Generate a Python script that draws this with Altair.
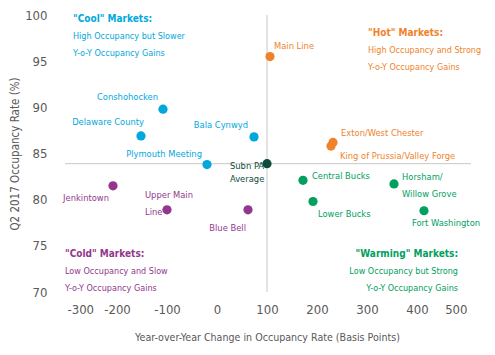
import altair as alt
import pandas as pd

# ---- data ----
markets = ["Conshohocken", "Delaware County", "Bala Cynwyd", "Plymouth Meeting",
           "Main Line", "Exton/West Chester", "King of Prussia/Valley Forge",
           "Central Bucks", "Lower Bucks", "Horsham/\nWillow Grove", "Fort Washington",
           "Jenkintown", "Upper Main\nLine", "Blue Bell", "Subn PA\nAverage"]
change_bps = [-108, -152, 74, -20, 106, 232, 228, 172, 192, 354, 414, -208, -100, 62, 100]
occupancy = [89.8, 86.9, 86.8, 83.8, 95.5, 86.2, 85.8, 82.1, 79.8, 81.7, 78.8, 81.5, 78.9, 78.9, 83.9]
group = ["Cool", "Cool", "Cool", "Cool", "Hot", "Hot", "Hot",
         "Warming", "Warming", "Warming", "Warming", "Cold", "Cold", "Cold", "Average"]

x_ticks = [-300, -200, -100, 0, 100, 200, 300, 400, 500]
y_ticks = [70, 75, 80, 85, 90, 95, 100]

avg_change = 100
avg_occ = 83.9

quadrants = [
    ("Cool", ['"Cool" Markets:', "High Occupancy but Slower", "Y-o-Y  Occupancy Gains"]),
    ("Hot", ['"Hot" Markets:', "High Occupancy and Strong", "Y-o-Y  Occupancy Gains"]),
    ("Cold", ['"Cold" Markets:', "Low Occupancy and Slow", "Y-o-Y  Occupancy Gains"]),
    ("Warming", ['"Warming" Markets:', "Low Occupancy but Strong", "Y-o-Y  Occupancy Gains"]),
]

colors = {"Cool": "#00a8dc", "Hot": "#f0832a", "Cold": "#93378e",
          "Warming": "#00a05e", "Average": "#0d4b3a"}
text_colors = dict(colors, Average="#3a3a3a")

FONT = "DejaVu Sans Condensed, Liberation Sans, sans-serif"

df = pd.DataFrame({"market": markets, "change": change_bps, "occ": occupancy, "group": group})

xs = alt.Scale(domain=[-300, 500], nice=False, zero=False)
ys = alt.Scale(domain=[70, 100], nice=False, zero=False)

X = alt.X("change:Q", scale=xs,
          axis=alt.Axis(values=x_ticks, title="Year-over-Year Change in Occupancy Rate (Basis Points)",
                        labelExpr="replace(datum.label, '\u2212', '-')",
                        domain=False, ticks=False, grid=False, labelPadding=11,
                        labelFontSize=13, labelFont=FONT, labelColor="#595959",
                        titleFont=FONT, titleFontSize=10.6, titleFontWeight="normal",
                        titleColor="#595959", titlePadding=16))
Y = alt.Y("occ:Q", scale=ys,
          axis=alt.Axis(values=y_ticks, title="Q2 2017 Occupancy Rate (%)",
                        domain=False, ticks=False, grid=False, labelPadding=20,
                        labelFontSize=13, labelFont=FONT, labelColor="#595959",
                        titleFont=FONT, titleFontSize=11.5, titleFontWeight="normal",
                        titleColor="#595959", titlePadding=4))

color_scale = alt.Scale(domain=list(colors.keys()), range=list(colors.values()))
text_scale = alt.Scale(domain=list(text_colors.keys()), range=list(text_colors.values()))

# reference lines through the suburban average
hline = alt.Chart(pd.DataFrame({"y": [avg_occ]})).mark_rule(color="#c8c8c8", strokeWidth=1).encode(
    y=alt.Y("y:Q", scale=ys), x=alt.value(-2), x2=alt.value(404))
vline = alt.Chart(pd.DataFrame({"x": [avg_change]})).mark_rule(color="#c8c8c8", strokeWidth=1).encode(
    x=alt.X("x:Q", scale=xs), y=alt.value(0), y2=alt.value(277))

points = alt.Chart(df).mark_circle(size=85, opacity=1).encode(
    x=X, y=Y, color=alt.Color("group:N", scale=color_scale, legend=None))

# label placement (pixel offsets from each point)
placement = {
    "Conshohocken": (-5, -12, "right", "middle"),
    "Delaware County": (3, -14, "right", "middle"),
    "Bala Cynwyd": (-6, -12, "right", "middle"),
    "Plymouth Meeting": (-5, -11, "right", "middle"),
    "Main Line": (4, -11, "left", "middle"),
    "Exton/West Chester": (8, -9, "left", "middle"),
    "King of Prussia/Valley Forge": (9, 10, "left", "middle"),
    "Central Bucks": (9, -4, "left", "middle"),
    "Lower Bucks": (5, 12, "left", "middle"),
    "Horsham/\nWillow Grove": (8, -11, "left", "top"),
    "Fort Washington": (-12, 12, "left", "middle"),
    "Jenkintown": (-4, 12, "right", "middle"),
    "Upper Main\nLine": (-22, -19, "left", "top"),
    "Blue Bell": (-2, 18, "right", "middle"),
    "Subn PA\nAverage": (-37, -2, "left", "top"),
}
line_heights = {"Horsham/\nWillow Grove": 17, "Upper Main\nLine": 17, "Subn PA\nAverage": 13}

labels = []
for m in markets:
    dx, dy, al, bl = placement[m]
    labels.append(
        alt.Chart(df[df.market == m]).mark_text(
            dx=dx, dy=dy, align=al, baseline=bl, font=FONT, fontSize=9.3,
            lineBreak="\n", lineHeight=line_heights.get(m, 13)
        ).encode(x=alt.X("change:Q", scale=xs), y=alt.Y("occ:Q", scale=ys), text="market:N",
                 color=alt.Color("group:N", scale=text_scale, legend=None))
    )

# quadrant annotations (pixel positions inside the plot area)
quad_pos = {"Cool": (6, 4, "left"), "Hot": (301, 18, "left"),
            "Cold": (-2, 239, "left"), "Warming": (391, 239, "right")}
annots = []
for g, lines in quadrants:
    px, py, al = quad_pos[g]
    for i, line in enumerate(lines):
        annots.append(
            alt.Chart(pd.DataFrame({"t": [line]})).mark_text(
                align=al, baseline="middle", font=FONT,
                fontSize=10 if i == 0 else 9,
                fontWeight="bold" if i == 0 else "normal", color=colors[g]
            ).encode(x=alt.value(px), y=alt.value(py + i * 17), text="t:N")
        )

chart = alt.layer(hline, vline, points, *labels, *annots).properties(
    width=400, height=277,
    autosize=alt.AutoSizeParams(type="none"),
    padding={"left": 59, "top": 7, "right": 20, "bottom": 60},
    background="white",
).configure_view(stroke=None)

chart.save("out.html", embed_options={"renderer": "svg", "actions": False})
